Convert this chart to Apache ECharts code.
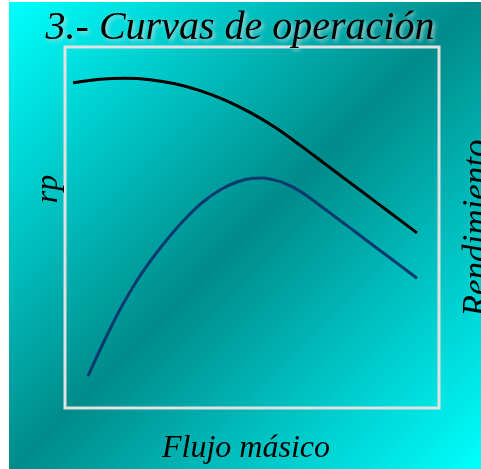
<!DOCTYPE html>
<html>
<head>
<meta charset="utf-8">
<style>
html,body{margin:0;padding:0;background:#ffffff;}
#chart{width:481px;height:469px;}
</style>
<script src="https://cdn.jsdelivr.net/npm/echarts@6/dist/echarts.min.js"></script>
</head>
<body>
<div id="chart"></div>
<script>
var titleText = '3.- Curvas de operación';
var xName = 'Flujo másico';
var yLeftName = 'rp';
var yRightName = 'Rendimiento';

var rpX = [2.14, 9.36, 16.04, 22.73, 29.41, 36.10, 42.78, 49.47, 56.15, 62.83, 69.52, 76.20, 82.89, 89.57, 94.12];
var rpY = [90.11, 91.05, 91.33, 90.95, 89.82, 87.93, 85.29, 81.88, 77.74, 72.81, 67.62, 62.42, 57.23, 52.04, 48.50];

var effX = [6.15, 10.43, 14.71, 19.25, 23.53, 28.07, 32.62, 36.90, 41.44, 45.99, 50.27, 52.67, 54.81, 58.29, 62.83, 67.38, 71.66, 76.20, 80.75, 85.03, 89.57, 94.12];
var effY = [8.86, 18.42, 27.29, 35.32, 41.69, 47.65, 52.91, 57.06, 60.39, 62.60, 63.64, 63.71, 63.41, 62.44, 60.08, 56.73, 53.41, 49.89, 46.34, 43.02, 39.50, 35.96];

function pairs(xs, ys){ return xs.map(function(v,i){ return [v, ys[i]]; }); }

var font = '"Liberation Serif", "Times New Roman", serif';
var chart = echarts.init(document.getElementById('chart'), null, {renderer:'canvas'});
chart.setOption({
  animation: false,
  backgroundColor: '#ffffff',
  graphic: [
    {
      type: 'rect', z: -10, silent: true,
      shape: {x: 9, y: 2, width: 472, height: 467},
      style: {
        fill: new echarts.graphic.LinearGradient(0, 0, 1, 1, [
          {offset: 0, color: '#00ffff'},
          {offset: 0.5, color: '#008b8b'},
          {offset: 1, color: '#00ffff'}
        ])
      }
    },
    {
      type: 'text', x: 240, y: 28, z: 10,
      style: {
        text: titleText, font: 'italic 40px ' + font, fill: '#000000',
        textAlign: 'center', textVerticalAlign: 'middle',
        textShadowColor: 'rgba(200,220,220,0.9)', textShadowBlur: 4,
        textShadowOffsetX: 2, textShadowOffsetY: 2
      }
    },
    {
      type: 'text', x: 246, y: 449,
      style: {
        text: xName, font: 'italic 32px ' + font, fill: '#000000',
        textAlign: 'center', textVerticalAlign: 'middle'
      }
    },
    {
      type: 'text', x: 49, y: 189, rotation: Math.PI/2,
      style: {
        text: yLeftName, font: 'italic 32px ' + font, fill: '#000000',
        textAlign: 'center', textVerticalAlign: 'middle'
      }
    },
    {
      type: 'text', x: 478, y: 228, rotation: Math.PI/2,
      style: {
        text: yRightName, font: 'italic 35px ' + font, fill: '#000000',
        textAlign: 'center', textVerticalAlign: 'middle'
      }
    }
  ],
  grid: {
    left: 65, right: 42, top: 47, bottom: 61,
    show: true, borderColor: '#e2e2e2', borderWidth: 3,
    backgroundColor: 'transparent'
  },
  xAxis: {
    type: 'value', min: 0, max: 100,
    axisLine: {show: false}, axisTick: {show: false},
    axisLabel: {show: false}, splitLine: {show: false}
  },
  yAxis: {
    type: 'value', min: 0, max: 100,
    axisLine: {show: false}, axisTick: {show: false},
    axisLabel: {show: false}, splitLine: {show: false}
  },
  series: [
    {
      name: yLeftName, type: 'line', smooth: 0.3, symbol: 'none',
      data: pairs(rpX, rpY),
      lineStyle: {color: '#000000', width: 3}
    },
    {
      name: yRightName, type: 'line', smooth: 0.3, symbol: 'none',
      data: pairs(effX, effY),
      lineStyle: {color: '#0b3a6e', width: 3}
    }
  ]
});
</script>
</body>
</html>
